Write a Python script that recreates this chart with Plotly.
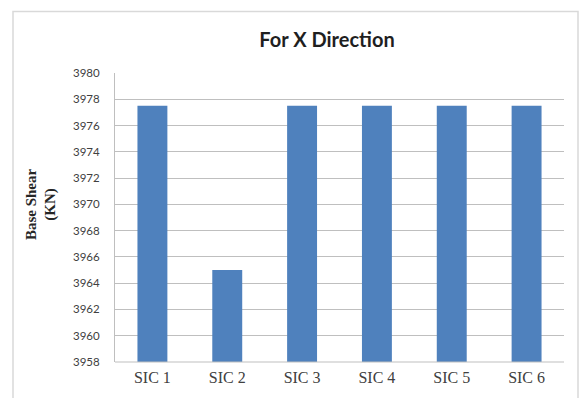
import plotly.graph_objects as go

# Base shear per structural irregularity case, X direction
categories = ["SIC 1", "SIC 2", "SIC 3", "SIC 4", "SIC 5", "SIC 6"]
base_shear_kn = [3977.5, 3965.0, 3977.5, 3977.5, 3977.5, 3977.5]
y_ticks = list(range(3958, 3981, 2))

W, H = 581, 398
L, R, T, B = 115, 17, 73, 34
pw, ph = W - L - R, H - T - B


def px_to_paper_x(px):
    return (px - L) / pw


def px_to_paper_y(py):
    return (H - B - py) / ph


fig = go.Figure(
    go.Bar(
        x=categories,
        y=base_shear_kn,
        marker=dict(color="#4F81BD", line=dict(width=0)),
        width=0.4,
    )
)

fig.update_layout(
    width=W,
    height=H,
    margin=dict(l=L, r=R, t=T, b=B),
    paper_bgcolor="white",
    plot_bgcolor="white",
    showlegend=False,
    title=dict(
        text="<b>For X Direction</b>",
        x=327 / W,
        xref="container",
        xanchor="center",
        y=1 - 40 / H,
        yanchor="middle",
        font=dict(family="Lato", size=20, color="#1F1F1F"),
    ),
    xaxis=dict(
        showgrid=False,
        showline=False,
        ticks="",
        tickfont=dict(family="Liberation Serif", size=16, color="#404040"),
        ticklabelstandoff=4,
    ),
    yaxis=dict(
        range=[3958, 3980],
        tickvals=y_ticks,
        showgrid=True,
        gridcolor="#BFBFBF",
        gridwidth=1,
        showline=True,
        linecolor="#BFBFBF",
        linewidth=1,
        ticks="",
        zeroline=False,
        tickfont=dict(family="Lato", size=11.5, color="#404040"),
        ticklabelstandoff=12,
    ),
    shapes=[
        # chart frame
        dict(
            type="rect",
            xref="paper",
            yref="paper",
            x0=px_to_paper_x(13),
            x1=px_to_paper_x(578),
            y0=px_to_paper_y(410),
            y1=px_to_paper_y(11),
            line=dict(color="#D9D9D9", width=1.5),
            layer="below",
        ),
        # baseline of the plot area
        dict(
            type="line",
            xref="paper",
            yref="paper",
            x0=0,
            x1=1,
            y0=0,
            y1=0,
            line=dict(color="#BFBFBF", width=1),
        ),
    ],
    annotations=[
        dict(
            text="<b>Base Shear<br>(KN)</b>",
            xref="paper",
            yref="paper",
            x=px_to_paper_x(41),
            y=px_to_paper_y(205),
            xanchor="center",
            yanchor="middle",
            textangle=-90,
            showarrow=False,
            font=dict(family="Liberation Serif", size=15, color="#262626"),
        )
    ],
)

fig.write_html("out.html")
